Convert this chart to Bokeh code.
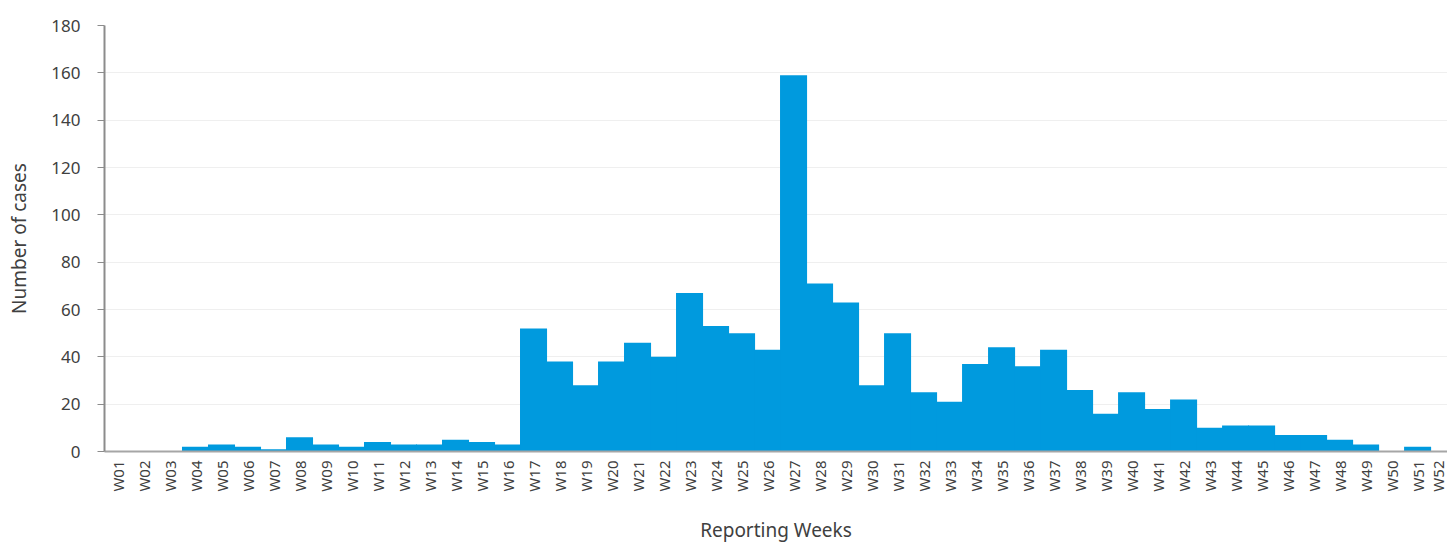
from bokeh.plotting import figure
from bokeh.embed import file_html
from bokeh.resources import INLINE
from bokeh.models import ColumnDataSource, FixedTicker, Range1d

weeks = ["W%02d" % i for i in range(1, 53)]
cases = [0, 0, 0, 2, 3, 2, 1, 6, 3, 2, 4, 3, 3, 5, 4, 3, 52, 38, 28, 38,
         46, 40, 67, 53, 50, 43, 159, 71, 63, 28, 50, 25, 21, 37, 44, 36, 43, 26, 16, 25,
         18, 22, 10, 11, 11, 7, 7, 5, 3, 0, 2, 0]
y_ticks = [0, 20, 40, 60, 80, 100, 120, 140, 160, 180]

pos = list(range(1, len(weeks) + 1))
src = ColumnDataSource(dict(x=pos, top=cases, week=weeks))

FONT = "Noto Sans"
TXT = "#404040"

p = figure(width=1447, height=545, output_backend="svg", toolbar_location=None,
           x_range=Range1d(0.5, 52.15), y_range=Range1d(0, 180),
           min_border_left=104, min_border_right=0, min_border_top=25, min_border_bottom=94)
p.vbar(x="x", top="top", width=1.04, source=src, fill_color="#009ADE", line_color=None)

p.outline_line_color = None
p.xgrid.grid_line_color = None
p.ygrid.grid_line_color = "#efefef"
p.ygrid.grid_line_width = 1

p.yaxis.ticker = FixedTicker(ticks=y_ticks)
p.yaxis.minor_tick_line_color = None
p.yaxis.major_tick_out = 7
p.yaxis.major_tick_in = 0
p.yaxis.axis_line_color = "#8c8c8c"
p.yaxis.axis_line_width = 2
p.yaxis.major_tick_line_color = "#8c8c8c"
p.yaxis.major_label_text_font = FONT
p.yaxis.major_label_text_font_size = "17px"
p.yaxis.major_label_text_color = TXT
p.yaxis.major_label_standoff = 17
p.yaxis.axis_label = "Number of cases"
p.yaxis.axis_label_text_font = FONT
p.yaxis.axis_label_text_font_size = "19px"
p.yaxis.axis_label_text_font_style = "normal"
p.yaxis.axis_label_text_color = TXT
p.yaxis.axis_label_standoff = 16

p.xaxis.ticker = FixedTicker(ticks=pos)
p.xaxis.major_label_overrides = {i: w for i, w in zip(pos, weeks)}
p.xaxis.major_label_orientation = 3.14159265 / 2
p.xaxis.minor_tick_line_color = None
p.xaxis.major_tick_line_color = None
p.xaxis.axis_line_color = "#a6a6a6"
p.xaxis.axis_line_width = 2
p.xaxis.major_label_text_font = FONT
p.xaxis.major_label_text_font_size = "15px"
p.xaxis.major_label_text_color = TXT
p.xaxis.major_label_standoff = 3
p.xaxis.axis_label = "Reporting Weeks"
p.xaxis.axis_label_text_font = FONT
p.xaxis.axis_label_text_font_size = "19px"
p.xaxis.axis_label_text_font_style = "normal"
p.xaxis.axis_label_text_color = TXT
p.xaxis.axis_label_standoff = 22

open("out.html", "w").write(file_html(p, INLINE))
